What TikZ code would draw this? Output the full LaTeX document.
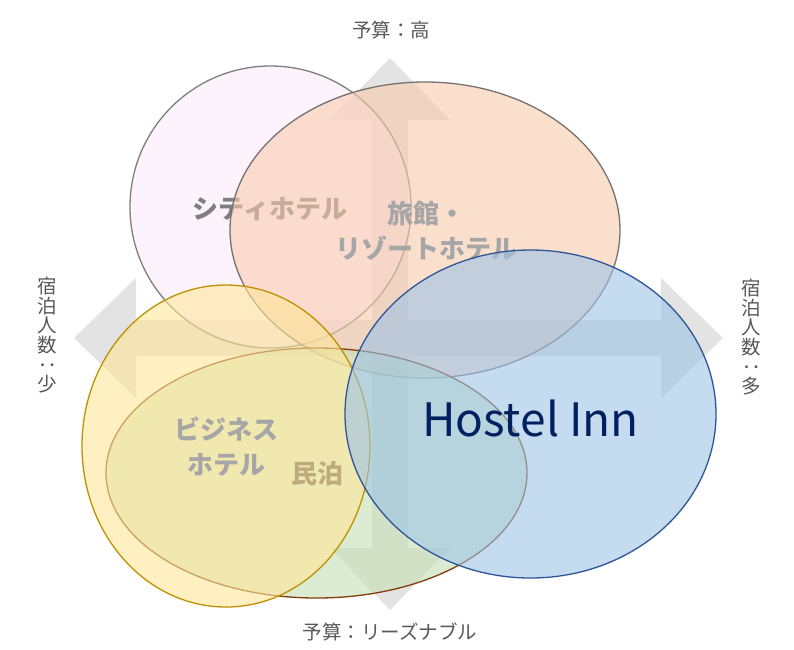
\documentclass[tikz,border=0pt]{standalone}
\usepackage{fontspec}
\setmainfont{Noto Sans CJK JP}
\usepackage{graphicx}
\usetikzlibrary{shapes.geometric}

\definecolor{crossgray}{HTML}{E3E3E3}
\definecolor{cityfill}{HTML}{FDEBFD}
\definecolor{cityline}{HTML}{7F7F7F}
\definecolor{ryokanfill}{HTML}{F8CBAD}
\definecolor{ryokanline}{HTML}{767171}
\definecolor{minpakufill}{HTML}{C5E0B4}
\definecolor{minpakuline}{HTML}{843C0C}
\definecolor{bizfill}{HTML}{FFE699}
\definecolor{bizline}{HTML}{BF9000}
\definecolor{hostelfill}{HTML}{9DC3E6}
\definecolor{hostelline}{HTML}{2F5597}
\definecolor{hosteltext}{HTML}{002060}
\definecolor{labelgray}{HTML}{A6A6A6}
\definecolor{axisgray}{HTML}{595959}

\begin{document}
\begin{tikzpicture}[x=1pt,y=-1pt,
  zone/.style={ellipse, draw, line width=1.3pt, fill opacity=0.6, inner sep=0pt},
  zonetext/.style={text=labelgray, font=\fontsize{26}{35}\selectfont\bfseries, align=center, inner sep=0pt},
  axistext/.style={text=axisgray, font=\fontsize{19.5}{19.5}\selectfont, align=center, inner sep=0pt}]
  \def\cx{390} % centre of the cross
  \def\cy{338}
  \def\hw{18} % half width of each bar
  \def\hl{62} % length of each head
  \def\hh{60} % half width of each head
  \useasboundingbox (0,0) rectangle (794,649);
  \fill[white] (0,0) rectangle (794,649);
  % four-way arrow behind the sets
  \fill[crossgray] (\cx,58) -- (\cx+\hh,58+\hl) -- (\cx+\hw,58+\hl) -- (\cx+\hw,\cy-\hw)
    -- (723-\hl,\cy-\hw) -- (723-\hl,\cy-\hh) -- (723,\cy) -- (723-\hl,\cy+\hh) -- (723-\hl,\cy+\hw)
    -- (\cx+\hw,\cy+\hw) -- (\cx+\hw,610-\hl) -- (\cx+\hh,610-\hl) -- (\cx,610) -- (\cx-\hh,610-\hl)
    -- (\cx-\hw,610-\hl) -- (\cx-\hw,\cy+\hw) -- (74+\hl,\cy+\hw) -- (74+\hl,\cy+\hh) -- (74,\cy)
    -- (74+\hl,\cy-\hh) -- (74+\hl,\cy-\hw) -- (\cx-\hw,\cy-\hw) -- (\cx-\hw,58+\hl) -- (\cx-\hh,58+\hl) -- cycle;
  % sets
  \node[zone, fill=cityfill, draw=cityline, minimum width=281pt, minimum height=282pt] (city) at (270.5,207) {};
  \node[zonetext, text=cityline] (citylabel) at (270,209) {シティホテル};
  \node[zone, fill=ryokanfill, draw=ryokanline, minimum width=390pt, minimum height=296pt] (ryokan) at (425,230) {};
  \node[zonetext] (ryokanlabel) at (426,231) {旅館・\\リゾートホテル};
  \node[zone, fill=minpakufill, draw=minpakuline, minimum width=421pt, minimum height=250pt] (minpaku) at (316.5,473) {};
  \node[zonetext, text=axisgray] (minpakulabel) at (317,474) {民泊};
  \node[zone, fill=bizfill, draw=bizline, minimum width=288pt, minimum height=322pt] (biz) at (226,446) {};
  \node[zonetext] (bizlabel) at (226,447) {ビジネス\\ホテル};
  \node[zone, fill=hostelfill, draw=hostelline, minimum width=371pt, minimum height=328pt] (hostel) at (530.5,414) {};
  \node[text=hosteltext, font=\fontsize{46}{50}\selectfont, inner sep=0pt] (hostellabel) at (530.5,418) {Hostel Inn};
  % axis labels
  \node[axistext] (budgethigh) at (391,30) {予算：高};
  \node[axistext] (budgetlow) at (390,632) {予算：リーズナブル};
  \node[axistext] (guestsfew) at (47,335) {宿\\泊\\人\\数\\\rotatebox[origin=c]{-90}{：}\\少};
  \node[axistext] (guestsmany) at (751,337) {宿\\泊\\人\\数\\\rotatebox[origin=c]{-90}{：}\\多};
\end{tikzpicture}
\end{document}
